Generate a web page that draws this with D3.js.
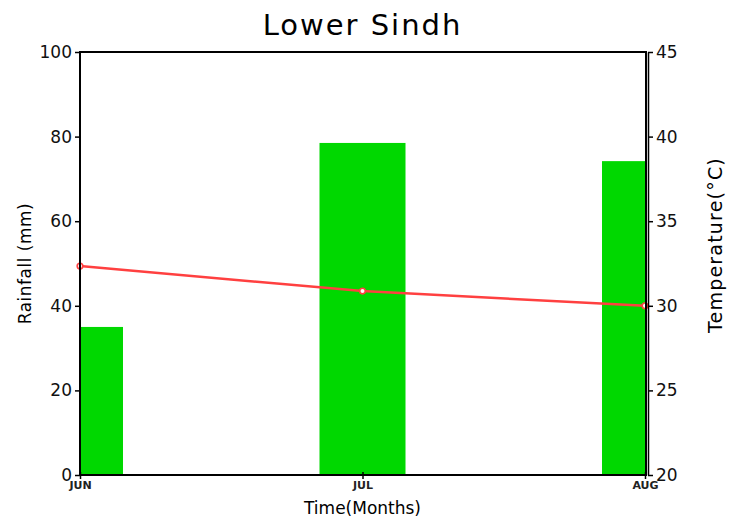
<html>
<head>
<script src="https://d3js.org/d3.v7.min.js"></script>
<style>
  body { margin: 0; background: #fff; }
  text { font-family: "DejaVu Sans", sans-serif; }
</style>
</head>
<body>
<script>
// chart data
var months = ["JUN", "JUL", "AUG"];
var rainfall = [35.0, 78.5, 74.2];
var temperature = [32.35, 30.87, 30.0];
var rainTicks = [0, 20, 40, 60, 80, 100];
var tempTicks = [20, 25, 30, 35, 40, 45];

var width = 729, height = 519;
var pLeft = 80, pRight = 645, pTop = 52, pBottom = 475;

var svg = d3.select("body").append("svg")
    .attr("width", width)
    .attr("height", height);

var x = d3.scalePoint().domain(months).range([pLeft, pRight]);
var yRain = d3.scaleLinear().domain([0, 100]).range([pBottom, pTop]);
var yTemp = d3.scaleLinear().domain([20, 45]).range([pBottom, pTop]);

var barW = 86;

svg.append("clipPath").attr("id", "plot")
  .append("rect").attr("x", pLeft).attr("y", pTop)
  .attr("width", pRight - pLeft + 1).attr("height", pBottom - pTop);

//bars
svg.append("g").attr("clip-path", "url(#plot)")
  .selectAll("rect")
  .data(months)
  .join("rect")
    .attr("x", d => x(d) - barW / 2)
    .attr("width", barW)
    .attr("y", (d, i) => yRain(rainfall[i]))
    .attr("height", (d, i) => pBottom - yRain(rainfall[i]))
    .attr("fill", "#00d800");

//temperature line
var line = d3.line()
    .x((d, i) => x(months[i]))
    .y(d => yTemp(d));

svg.append("path")
  .datum(temperature)
  .attr("d", line)
  .attr("fill", "none")
  .attr("stroke", "#ff4040")
  .attr("stroke-width", 2.5);

svg.append("g").selectAll("circle")
  .data(temperature)
  .join("circle")
    .attr("cx", (d, i) => x(months[i]))
    .attr("cy", d => yTemp(d))
    .attr("r", 2.8)
    .attr("fill", "white")
    .attr("stroke", "#ff4040")
    .attr("stroke-width", 1.6);

//frame
svg.append("path")
  .attr("d", `M${pLeft},${pTop}H${pRight + 1}V${pBottom}H${pLeft}Z`)
  .attr("fill", "none")
  .attr("stroke", "black")
  .attr("stroke-width", 2);

//left axis
var la = svg.append("g")
  .attr("transform", `translate(${pLeft},0)`)
  .call(d3.axisLeft(yRain).tickValues(rainTicks).tickSize(5).tickPadding(3).tickSizeOuter(0));
la.select(".domain").remove();
la.selectAll("text").attr("font-family", "Liberation Sans Narrow, Liberation Sans, sans-serif").attr("font-size", 17).attr("fill", "#111");
la.selectAll("line").attr("stroke-width", 1.5);

//right axis
var ra = svg.append("g")
  .attr("transform", `translate(${pRight + 3},0)`)
  .call(d3.axisRight(yTemp).tickValues(tempTicks).tickSize(5).tickPadding(3).tickSizeOuter(0));
ra.select(".domain").attr("stroke-width", 1.5);
ra.selectAll("text").attr("font-size", 17).attr("fill", "#111");
ra.selectAll("line").attr("stroke-width", 1.5);

//bottom axis
var ba = svg.append("g")
  .attr("transform", `translate(0,${pBottom})`)
  .call(d3.axisBottom(x).tickSize(4).tickPadding(2).tickSizeOuter(0));
ba.select(".domain").remove();
ba.selectAll("text").attr("font-family", "Liberation Sans Narrow, Liberation Sans, sans-serif")
  .attr("font-size", 11).attr("font-weight", "bold").attr("fill", "#222");
ba.selectAll("line").attr("stroke-width", 1.5).attr("y1", -3);

//titles
svg.append("text")
  .attr("x", (pLeft + pRight) / 2).attr("y", 35)
  .attr("text-anchor", "middle")
  .attr("font-size", 29)
  .attr("letter-spacing", 2)
  .text("Lower Sindh");

svg.append("text")
  .attr("x", (pLeft + pRight) / 2).attr("y", 514)
  .attr("text-anchor", "middle")
  .attr("font-size", 17)
  .text("Time(Months)");

svg.append("text")
  .attr("transform", `translate(31,${(pTop + pBottom) / 2}) rotate(-90)`)
  .attr("text-anchor", "middle")
  .attr("font-size", 17)
  .attr("letter-spacing", 0.5)
  .text("Rainfall (mm)");

svg.append("text")
  .attr("transform", `translate(722,245) rotate(-90)`)
  .attr("text-anchor", "middle")
  .attr("font-size", 19)
  .attr("letter-spacing", 1.2)
  .text("Temperature(°C)");
</script>
</body>
</html>
